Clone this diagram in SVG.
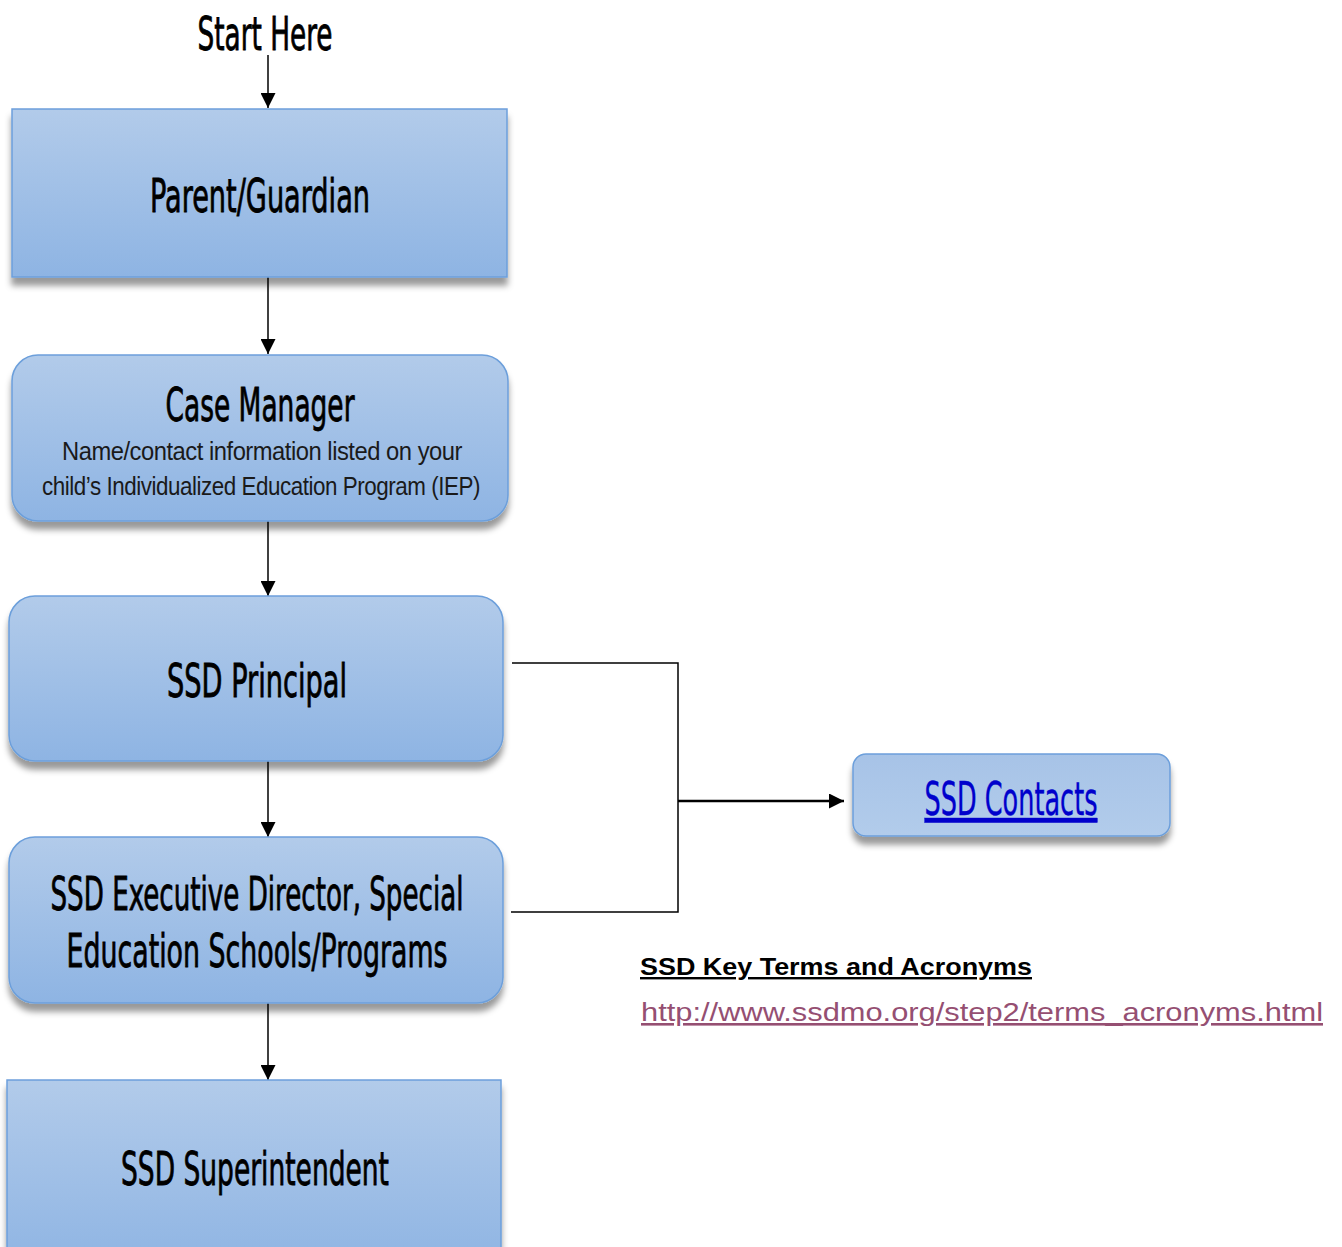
<svg xmlns="http://www.w3.org/2000/svg" width="1342" height="1247" viewBox="0 0 1342 1247">
<defs>
<linearGradient id="g" x1="0" y1="0" x2="0" y2="1">
<stop offset="0" stop-color="#b2cbea"/>
<stop offset="1" stop-color="#8eb4e3"/>
</linearGradient>
<linearGradient id="g2" x1="0" y1="0" x2="0" y2="1">
<stop offset="0" stop-color="#a7c3e7"/>
<stop offset="1" stop-color="#b2cceb"/>
</linearGradient>
<filter id="sh" x="-10%" y="-10%" width="120%" height="130%">
<feDropShadow dx="0" dy="8" stdDeviation="3" flood-color="#000" flood-opacity="0.4"/>
</filter>
<marker id="ah" viewBox="0 0 10 10" refX="10" refY="5" markerUnits="userSpaceOnUse" markerWidth="15" markerHeight="15" orient="auto" preserveAspectRatio="none">
<path d="M0,0 L10,5 L0,10 z" fill="#000"/>
</marker>
</defs>
<style>
.box{fill:url(#g);stroke:#6c9fdb;stroke-width:1.5;filter:url(#sh)}
.t{font-family:"Liberation Sans Narrow","DejaVu Sans Condensed","Liberation Sans",sans-serif;font-size:46px;fill:#000;stroke:#000;stroke-width:0.8;text-anchor:middle}
.s{font-family:"Liberation Sans","DejaVu Sans",sans-serif;font-size:25px;fill:#1a1a1a;text-anchor:middle;letter-spacing:-0.5px}
.c{stroke:#000;stroke-width:1.5;fill:none}
</style>
<rect width="1342" height="1247" fill="#fff"/>
<text class="t" x="265" y="50" textLength="135" lengthAdjust="spacingAndGlyphs">Start Here</text>

<g id="connectors">
<line class="c" x1="268" y1="55" x2="268" y2="108" marker-end="url(#ah)"/>
<line class="c" x1="268" y1="277" x2="268" y2="354" marker-end="url(#ah)"/>
<line class="c" x1="268" y1="521" x2="268" y2="596" marker-end="url(#ah)"/>
<line class="c" x1="268" y1="761" x2="268" y2="837" marker-end="url(#ah)"/>
<line class="c" x1="268" y1="1003" x2="268" y2="1080" marker-end="url(#ah)"/>
<polyline class="c" points="512,663 678,663 678,912 511,912"/>
<line x1="678" y1="801" x2="844" y2="801" stroke="#000" stroke-width="2.5" marker-end="url(#ah)"/>
</g>

<g id="parent">
<rect class="box" x="12" y="109" width="495" height="168"/>
<text class="t" x="260" y="212" textLength="220" lengthAdjust="spacingAndGlyphs">Parent/Guardian</text>
</g>

<g id="casemanager">
<rect class="box" x="12" y="355" width="496" height="166" rx="26"/>
<text class="t" x="260" y="421" textLength="189" lengthAdjust="spacingAndGlyphs">Case Manager</text>
<text class="s" x="262" y="460" textLength="400" lengthAdjust="spacingAndGlyphs">Name/contact information listed on your</text>
<text class="s" x="261" y="495" textLength="438" lengthAdjust="spacingAndGlyphs">child’s Individualized Education Program (IEP)</text>
</g>

<g id="principal">
<rect class="box" x="9" y="596" width="494" height="165" rx="26"/>
<text class="t" x="257" y="697" textLength="180" lengthAdjust="spacingAndGlyphs">SSD Principal</text>
</g>

<g id="executive">
<rect class="box" x="9" y="837" width="494" height="166" rx="26"/>
<text class="t" x="257" y="910" textLength="413" lengthAdjust="spacingAndGlyphs">SSD Executive Director, Special</text>
<text class="t" x="257" y="967" textLength="381" lengthAdjust="spacingAndGlyphs">Education Schools/Programs</text>
</g>

<g id="superintendent">
<rect class="box" x="7" y="1080" width="494" height="190"/>
<text class="t" x="255" y="1185" textLength="268" lengthAdjust="spacingAndGlyphs">SSD Superintendent</text>
</g>

<g id="contacts">
<rect x="853" y="754" width="317" height="82" rx="13" fill="url(#g2)" stroke="#6c9fdb" stroke-width="1.5" filter="url(#sh)"/>
<text class="t" x="1011" y="815" style="fill:#0000cc;stroke:#0000cc;stroke-width:0.4" text-decoration="underline" textLength="173" lengthAdjust="spacingAndGlyphs">SSD Contacts</text>
</g>

<g id="keyterms">
<text x="640" y="975" font-family="'Liberation Sans','DejaVu Sans',sans-serif" font-size="24" font-weight="bold" fill="#000" text-decoration="underline" textLength="392" lengthAdjust="spacingAndGlyphs">SSD Key Terms and Acronyms</text>
<text x="641" y="1021" font-family="'Liberation Sans','DejaVu Sans',sans-serif" font-size="26" fill="#954f72" text-decoration="underline" textLength="682" lengthAdjust="spacingAndGlyphs">http://www.ssdmo.org/step2/terms_acronyms.html</text>
</g>
</svg>
